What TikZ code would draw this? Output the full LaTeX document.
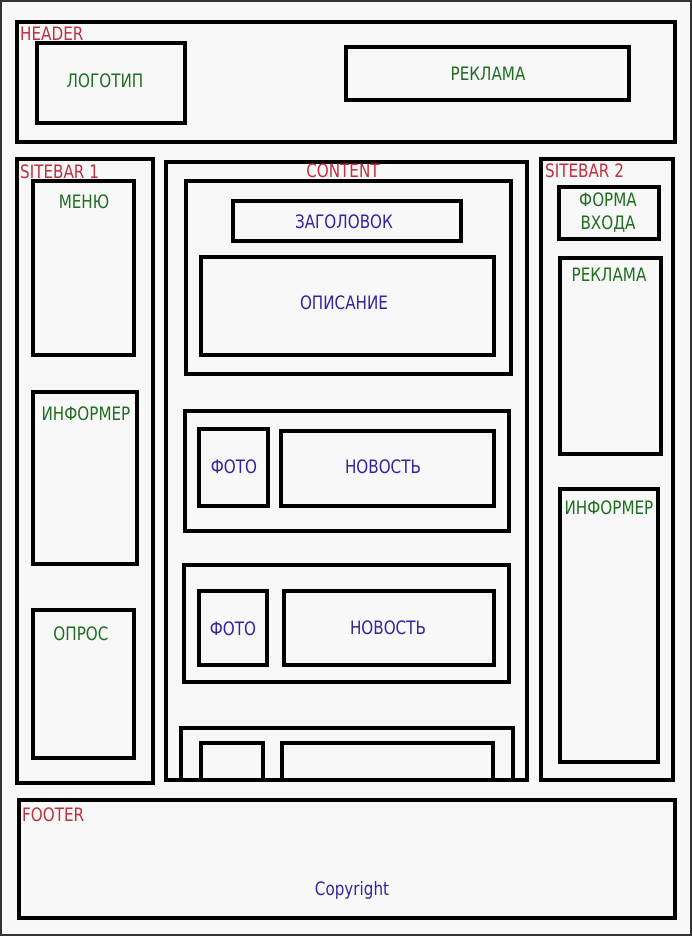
\documentclass[tikz,border=0pt]{standalone}
\usepackage{fontspec}
\setmainfont{DejaVu Sans}[FakeStretch=0.82]
\definecolor{lblred}{HTML}{C0303F}
\definecolor{lblgreen}{HTML}{1F6E22}
\definecolor{lblblue}{HTML}{3424A0}
\definecolor{paper}{HTML}{F8F8F8}
\newcommand{\mybox}[5]{%
  \node[box, minimum width={(#4-#2)*1pt}, minimum height={(#5-#3)*1pt}]
    (#1) at ({(#2+#4)/2},{-(#3+#5)/2}) {};}
\tikzset{
  box/.style={draw=black, line width=3.1pt, inner sep=0pt, outer sep=0pt, rectangle},
  txt/.style={font=\fontsize{18.5}{22}\selectfont, inner sep=0pt},
  red/.style={txt, text=lblred},
  grn/.style={txt, text=lblgreen},
  blu/.style={txt, text=lblblue},
}
\begin{document}
\begin{tikzpicture}[x=1pt,y=1pt]
\useasboundingbox (0,0) rectangle (692,-936);
\fill[paper] (0,0) rectangle (692,-936);
\draw[line width=2.4pt, black!80] (1.2,-1.2) rectangle (690.8,-934.8);
% header
\mybox{header}{17}{22}{675}{142}
\mybox{logo}{37}{43}{185}{123}
\mybox{ad}{346}{47}{629}{100}
\node[red, anchor=west] (headerlbl) at (20,-34) {HEADER};
\node[grn] (logolbl) at (105,-81) {ЛОГОТИП};
\node[grn] (adlbl) at (488,-74) {РЕКЛАМА};
% sitebar 1
\mybox{sb1}{17}{159}{153}{783}
\mybox{menu}{33}{181}{134}{355}
\mybox{inf1}{33}{392}{137}{564}
\mybox{poll}{33}{610}{134}{758}
\node[red, anchor=west] (sb1lbl) at (20,-172) {SITEBAR 1};
\node[grn] (menulbl) at (84,-202) {МЕНЮ};
\node[grn] (inf1lbl) at (86,-414) {ИНФОРМЕР};
\node[grn] (polllbl) at (81,-634) {ОПРОС};
% content
\mybox{content}{166}{162}{527}{780}
\node[red] (contentlbl) at (343,-171) {CONTENT};
\mybox{art}{186}{181}{511}{374}
\mybox{title}{233}{201}{461}{241}
\mybox{descr}{201}{257}{494}{355}
\node[blu] (titlelbl) at (344,-222) {ЗАГОЛОВОК};
\node[blu] (descrlbl) at (344,-303) {ОПИСАНИЕ};
\mybox{newsA}{185}{411}{509}{531}
\mybox{photoA}{199}{429}{268}{506}
\mybox{itemA}{281}{431}{494}{506}
\node[blu] (photoAlbl) at (234,-467) {ФОТО};
\node[blu] (itemAlbl) at (383,-467) {НОВОСТЬ};
\mybox{newsB}{184}{565}{509}{682}
\mybox{photoB}{199}{591}{267}{665}
\mybox{itemB}{284}{591}{494}{665}
\node[blu] (photoBlbl) at (233,-629) {ФОТО};
\node[blu] (itemBlbl) at (388,-628) {НОВОСТЬ};
\draw[line width=3.1pt] (181,-780) |- (513,-728) -- (513,-780);
\draw[line width=3.1pt] (201,-780) |- (263,-743) -- (263,-780);
\draw[line width=3.1pt] (282,-780) |- (493,-743) -- (493,-780);
% sitebar 2
\mybox{sb2}{541}{159}{673}{780}
\mybox{login}{559}{187}{659}{239}
\mybox{ad2}{560}{258}{661}{454}
\mybox{inf2}{560}{489}{658}{762}
\node[red, anchor=west] (sb2lbl) at (545,-171) {SITEBAR 2};
\node[grn, align=center, font=\fontsize{18.5}{23}\selectfont] (loginlbl) at (608,-213) {ФОРМА\\ВХОДА};
\node[grn] (ad2lbl) at (609,-275) {РЕКЛАМА};
\node[grn] (inf2lbl) at (609,-508) {ИНФОРМЕР};
% footer
\mybox{footer}{19}{800}{675}{918}
\node[red, anchor=west] (footerlbl) at (22,-815) {FOOTER};
\node[blu] (copylbl) at (352,-890) {Copyright};
\end{tikzpicture}
\end{document}
